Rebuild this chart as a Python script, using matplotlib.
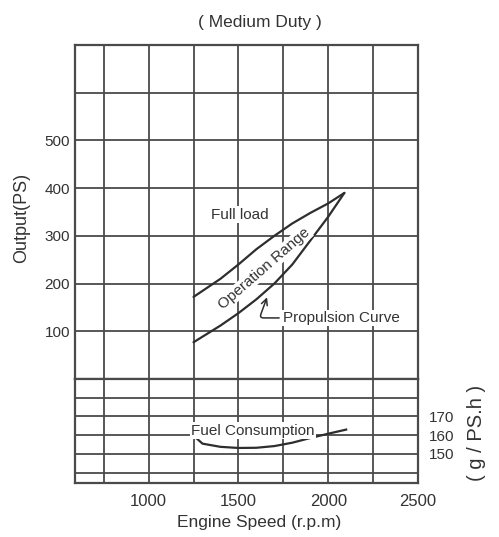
import matplotlib
matplotlib.use("Agg")
import matplotlib.pyplot as plt
import numpy as np
from matplotlib import font_manager

# ---- data ----
full_load_rpm = [1250, 1400, 1500, 1600, 1700, 1800, 1900, 2000, 2090]
full_load_ps = [172, 210, 240, 272, 300, 326, 348, 368, 390]

propulsion_rpm = [1250, 1400, 1500, 1600, 1700, 1800, 1900, 2000, 2090]
propulsion_ps = [77, 112, 138, 167, 200, 240, 290, 340, 390]

fuel_rpm = [1250, 1265, 1300, 1400, 1500, 1600, 1700, 1800, 1900, 2000, 2100]
fuel_gpsh = [163, 158.5, 155.5, 153.8, 153.2, 153.3, 154.2, 156.0, 158.5, 160.8, 163.0]

x_grid = [750, 1000, 1250, 1500, 1750, 2000, 2250, 2500]
x_labels = ["", "1000", "", "1500", "", "2000", "", "2500"]
ps_grid = [100, 200, 300, 400, 500, 600]
ps_labels = ["100", "200", "300", "400", "500", ""]
fuel_grid = [140, 150, 160, 170, 180]
fuel_labels = ["", "150", "160", "170", ""]

names = {f.name for f in font_manager.fontManager.ttflist}
fam = ["Liberation Sans Narrow", "Liberation Sans", "DejaVu Sans"]
fam = [f for f in fam if f in names] or ["DejaVu Sans"]
plt.rcParams["font.family"] = fam

TXT = "#333333"
GRID = "#4a4a4a"
CURVE = "#2e2e2e"

fig = plt.figure(figsize=(4.99, 5.37), dpi=100)
left, width = 75 / 499, (418 - 75) / 499
ax = fig.add_axes([left, 1 - 379 / 537, width, (379 - 45) / 537])
axf = fig.add_axes([left, 1 - 483 / 537, width, (483 - 379) / 537], sharex=ax)

for a in (ax, axf):
    for s in a.spines.values():
        s.set_color(GRID)
        s.set_linewidth(1.6)
    a.tick_params(length=0, colors=TXT)
    a.set_xlim(590, 2500)

ax.set_ylim(0, 700)
axf.set_ylim(134.5, 190)

ax.set_xticks(x_grid)
ax.tick_params(axis="x", labelbottom=False)
ax.set_yticks(ps_grid)
ax.set_yticklabels(ps_labels, fontsize=11, color=TXT)
ax.grid(True, color=GRID, linewidth=1.3)

axf.set_xticks(x_grid)
axf.set_xticklabels(x_labels, fontsize=12, color=TXT)
axf.set_yticks(fuel_grid)
axf.set_yticklabels(fuel_labels, fontsize=11, color=TXT)
axf.yaxis.tick_right()
axf.tick_params(axis="y", pad=8)
axf.tick_params(axis="x", pad=8)
axf.grid(True, color=GRID, linewidth=1.3)

# curves
ax.plot(full_load_rpm, full_load_ps, color=CURVE, lw=1.6, solid_capstyle="round")
ax.plot(propulsion_rpm, propulsion_ps, color=CURVE, lw=1.6, solid_capstyle="round")
axf.plot(fuel_rpm, fuel_gpsh, color=CURVE, lw=1.6)

ax.text(1510, 344, "Full load", fontsize=11, color=TXT, ha="center", va="center",
        bbox=dict(facecolor="white", edgecolor="none", pad=1))
ax.text(1645, 232, "Operation Range", fontsize=11, color=TXT, ha="center", va="center",
        rotation=41, bbox=dict(facecolor="white", edgecolor="none", pad=0.5))
ax.annotate("Propulsion Curve", xy=(1662, 174), xytext=(1750, 128), fontsize=11,
            color=TXT, ha="left", va="center",
            bbox=dict(facecolor="white", edgecolor="none", pad=1),
            arrowprops=dict(arrowstyle="->", color=CURVE, lw=1.1,
                            connectionstyle="angle,angleA=0,angleB=70,rad=4",
                            shrinkA=2, shrinkB=1))
axf.text(1580, 162.5, "Fuel Consumption", fontsize=11, color=TXT, ha="center",
         va="center", bbox=dict(facecolor="white", edgecolor="none", pad=1))

fig.text(260 / 499, 1 - 23 / 537, "( Medium Duty )", fontsize=12.5, color=TXT,
         ha="center", va="center")
fig.text(22 / 499, 1 - 218 / 537, "Output(PS)", fontsize=13, color=TXT,
         ha="center", va="center", rotation=90)
fig.text(476 / 499, 1 - 433 / 537, "( g / PS.h )", fontsize=14.5, color=TXT,
         ha="center", va="center", rotation=90)
fig.text(259 / 499, 1 - 523 / 537, "Engine Speed (r.p.m)", fontsize=12.5, color=TXT,
         ha="center", va="center")

fig.savefig("out.png", dpi=100, facecolor="white")
